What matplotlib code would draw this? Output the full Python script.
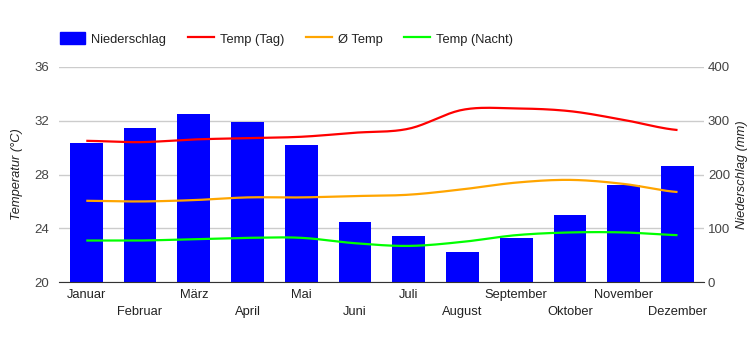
import numpy as np
import matplotlib
matplotlib.use("Agg")
import matplotlib.pyplot as plt
from matplotlib.patches import Patch
from matplotlib.lines import Line2D

plt.rcParams['font.family'] = ['Liberation Sans', 'DejaVu Sans']

months = ["Januar", "Februar", "März", "April", "Mai", "Juni", "Juli",
          "August", "September", "Oktober", "November", "Dezember"]
niederschlag = [258, 286, 312, 297, 255, 112, 86, 56, 82, 125, 180, 216]
temp_tag = [30.5, 30.4, 30.6, 30.7, 30.8, 31.1, 31.4, 32.8, 32.9, 32.7, 32.05, 31.3]
temp_avg = [26.05, 26.0, 26.1, 26.3, 26.3, 26.4, 26.5, 26.9, 27.4, 27.6, 27.3, 26.7]
temp_nacht = [23.1, 23.1, 23.2, 23.3, 23.3, 22.9, 22.7, 23.0, 23.5, 23.7, 23.7, 23.5]


def smooth(x, y, n=20):
    x = np.asarray(x, float)
    y = np.asarray(y, float)
    xs, ys = [], []
    N = len(x)
    for i in range(N - 1):
        p0 = y[i - 1] if i > 0 else y[i]
        p1, p2 = y[i], y[i + 1]
        p3 = y[i + 2] if i + 2 < N else y[i + 1]
        t = np.linspace(0, 1, n, endpoint=(i == N - 2))
        m1 = (p2 - p0) / 2
        m2 = (p3 - p1) / 2
        h00 = 2 * t**3 - 3 * t**2 + 1
        h10 = t**3 - 2 * t**2 + t
        h01 = -2 * t**3 + 3 * t**2
        h11 = t**3 - t**2
        xs.append(x[i] + t * (x[i + 1] - x[i]))
        ys.append(h00 * p1 + h10 * m1 + h01 * p2 + h11 * m2)
    return np.concatenate(xs), np.concatenate(ys)


fig = plt.figure(figsize=(7.5, 3.5), dpi=100)
ax = fig.add_axes([59.4 / 750, 67.7 / 350, 645 / 750, 215.6 / 350])
ax2 = ax.twinx()
x = np.arange(len(months))

# precipitation bars (right axis)
ax.set_axisbelow(True)
ax.grid(axis='y', color='#cccccc', linewidth=1)
ax.bar(x, niederschlag, width=0.61, color='#0000ff', zorder=2)
ax.set_ylim(0, 400)
ax.set_yticks([0, 100, 200, 300, 400])
ax.yaxis.tick_right()
ax.yaxis.set_label_position('right')
ax.set_xlim(-0.5, 11.5)
ax.set_xticks(x)
ax.set_xticklabels(["" for _ in months])
for i, m in enumerate(months):
    ax.text(i, -0.06 if i % 2 == 0 else -0.14, m, transform=ax.get_xaxis_transform(),
            ha='center', va='center', fontsize=9.3, color='#222222')
ax.tick_params(axis='x', length=0)
ax.tick_params(axis='y', length=0, labelsize=9.5, labelcolor='#444444', pad=2.5)
for s in ['top', 'left', 'right']:
    ax.spines[s].set_visible(False)
ax.spines['bottom'].set_color('#333333')
ax.spines['bottom'].set_zorder(5)
ax.set_ylabel('Niederschlag (mm)', fontsize=9.3, style='italic', color='#222222',
              rotation=90)
ax.yaxis.set_label_coords(1.049, 0.5)

# temperature lines (left axis)
for vals, col in [(temp_tag, '#ff0000'), (temp_avg, '#ffa500'), (temp_nacht, '#00ff00')]:
    sx, sy = smooth(x, vals)
    ax2.plot(sx, sy, color=col, linewidth=1.6, solid_capstyle='butt')
ax2.set_ylim(20, 36)
ax2.set_yticks([20, 24, 28, 32, 36])
ax2.yaxis.tick_left()
ax2.yaxis.set_label_position('left')
ax2.tick_params(axis='y', length=0, labelsize=9.5, labelcolor='#444444', pad=7.5)
for s in ['top', 'left', 'right', 'bottom']:
    ax2.spines[s].set_visible(False)
ax2.set_ylabel('Temperatur (°C)', fontsize=9.3, style='italic', color='#222222')
ax2.yaxis.set_label_coords(-0.056, 0.5)

handles = [Patch(color='#0000ff'),
           Line2D([], [], color='#ff0000', linewidth=1.6),
           Line2D([], [], color='#ffa500', linewidth=1.6),
           Line2D([], [], color='#00ff00', linewidth=1.6)]
labels = ['Niederschlag', 'Temp (Tag)', 'Ø Temp', 'Temp (Nacht)']
fig.legend(handles, labels, loc='center left', bbox_to_anchor=(48 / 750, 1 - 39 / 350),
           ncol=4, frameon=False, fontsize=9.3, handlelength=2.0, handleheight=1.0,
           handletextpad=0.45, columnspacing=1.7, labelcolor='#222222')

fig.savefig('out.png', dpi=100)
